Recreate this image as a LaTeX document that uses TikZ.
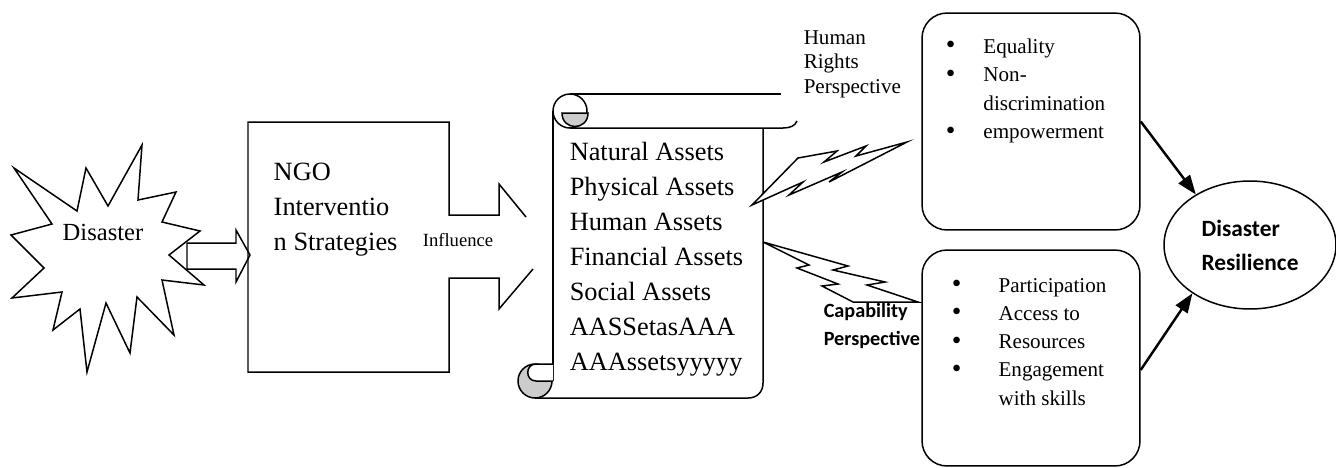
\documentclass[tikz,border=0pt]{standalone}
\usepackage{fontspec}
\setmainfont{Liberation Serif}
\newfontfamily\calibri{Carlito}
\usetikzlibrary{arrows.meta,shapes.geometric}
\usepackage{xcolor}

\newcommand{\linesof}[1]{\begin{tabular}[t]{@{}l@{}}#1\end{tabular}}
\newcommand{\bul}{\raisebox{-0.3pt}{\scalebox{1.3}{\textbullet}}}
\tikzset{
  lbl/.style={inner sep=0pt, anchor=base west},
  roundbox/.style={draw, rounded corners=0.5cm, minimum width=4.36cm},
  toresil/.style={-{Triangle[length=11pt,width=8pt]}, line width=1.4pt},
}

\begin{document}
\begin{tikzpicture}[x=0.02cm, y=-0.02cm, line width=0.85pt]
        \useasboundingbox (0,0) rectangle (1336,467);
        % disaster star and arrow into NGO box
        \filldraw[fill=white] (14,168)--(77,211)--(86,168)--(108,206)--(142,145)--(138,200)--(176,192)--(162,222)--(200,231)--(169,255)--(204,285)--(162,280)--(174,335)--(137,297)--(130,353)--(106,303)--(87,372)--(80,309)--(53,330)--(62,292)--(12,298)--(44,268)--(11,235)--(52,224)--cycle;
        \node[anchor=base, inner sep=0pt, font=\fontsize{14}{17}\selectfont] (dis) at (103,240) {Disaster};
        \filldraw[fill=white] (187,243)--(236,243)--(236,230)--(250,255)--(236,282)--(236,269)--(187,269)--cycle;
        \draw (526,217)--(499,184)--(499,215)--(449,215)--(449,122)--(248,122)--(248,372)--(449,372)--(449,278)--(499,278)--(499,309)--(533,269);
        \node[lbl, font=\fontsize{15}{20}\selectfont] (ngo) at (273,180) {\linesof{NGO\\Interventio\\n Strategies}};
        \node[anchor=base, inner sep=0pt, font=\fontsize{10.6}{13}\selectfont] (infl) at (458,246) {Influence};

        % scroll of assets
        \fill[white] (553,111) rectangle (763,398);
        \draw (553,111)--(553,381);
        \draw (570,94)--(781,94);
        \draw (570,111) circle (17);
        \draw (570,128)--(783,128) .. controls (790,128) and (795,126) .. (797,121);
        \filldraw[fill=gray!40] (562,113)--(588,113) .. controls (588,131) and (562,131) .. (562,113)--cycle;
        \draw (763,128)--(763,383) .. controls (763,392) and (757,398) .. (748,398)--(535,398);
        \filldraw[fill=gray!40] (535,381) circle (17);
        \filldraw[fill=white] (553,364)--(536,364) .. controls (525,364) and (525,381) .. (536,381)--(553,381);
        \node[lbl, font=\fontsize{15}{20}\selectfont] (assets) at (569,160) {\linesof{Natural Assets\\Physical Assets\\Human Assets\\Financial Assets\\Social Assets\\AASSetasAAA\\AAAssetsyyyyy}};

        % perspectives
        \filldraw[fill=white] (752,205)--(798,158)--(837,151)--(824,162)--(866,146)--(856,156)--(907,142)--(829,182)--(842,172)--(789,195)--(803,182)--cycle;
        \filldraw[fill=white] (763,242)--(848,266)--(833,270)--(885,282)--(867,285)--(918,302)--(853,302)--(822,286)--(838,284)--(797,268)--(809,265)--cycle;
        \node[lbl, font=\fontsize{12}{14}\selectfont] (hrp) at (803,44) {\linesof{Human\\Rights\\Perspective}};
        \node[lbl, font=\calibri\bfseries\fontsize{11.5}{16.5}\selectfont] (capp) at (823,317) {\linesof{Capability\\Perspective}};

        \node[roundbox, minimum height=4.34cm] (hrbox) at (1031,121.5) {};
        \node[roundbox, minimum height=4.32cm] (capbox) at (1031,358) {};
        \node[lbl, font=\fontsize{12}{16.3}\selectfont] (hrlist) at (945,53)
            {\begin{tabular}[t]{@{}l@{\hspace{16pt}}l@{}}\bul & Equality\\ \bul & Non-\\ & discrimination\\ \bul & empowerment\end{tabular}};
        \node[lbl, font=\fontsize{12}{16.1}\selectfont] (caplist) at (951,292)
            {\begin{tabular}[t]{@{}l@{\hspace{21.2pt}}l@{}}\bul & Participation\\ \bul & Access to\\ \bul & Resources\\ \bul & Engagement\\ & with skills\end{tabular}};

        % outcome
        \node[draw, ellipse, minimum width=3.44cm, minimum height=2.56cm, align=left,
              font=\calibri\bfseries\fontsize{13.3}{19.3}\selectfont] (res) at (1250,245) {Disaster\\Resilience};
        \draw[toresil] (hrbox.east) -- (res.137);
        \draw[toresil] ([yshift=-6.8pt]capbox.east) -- (res.220);
\end{tikzpicture}
\end{document}
